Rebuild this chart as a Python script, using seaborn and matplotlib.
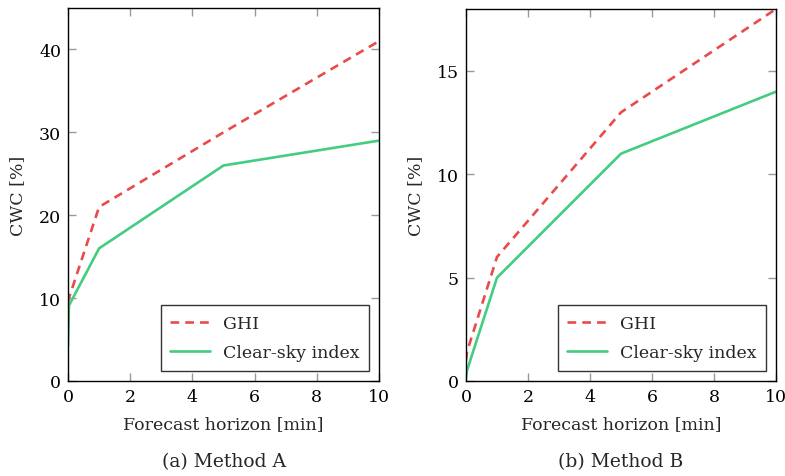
import numpy as np
import pandas as pd
import matplotlib
matplotlib.use("Agg")
import matplotlib.pyplot as plt
import seaborn as sns

horizon = [0.0, 0.03, 1, 5, 10]
ghi_a = [9.5, 10.0, 21, 30, 41]
csi_a = [4.2, 9.1, 16, 26, 29]
ghi_b = [1.0, 1.4, 6, 13, 18]
csi_b = [0.2, 0.5, 5, 11, 14]
series_names = ["GHI", "Clear-sky index"]
captions = ["(a) Method A", "(b) Method B"]
xticks = [0, 2, 4, 6, 8, 10]
yticks_a = [0, 10, 20, 30, 40]
yticks_b = [0, 5, 10, 15]

sns.set_style("ticks")
plt.rcParams["font.family"] = ["DejaVu Serif"]
plt.rcParams["mathtext.fontset"] = "dejavuserif"

def make_df(ghi, csi):
    return pd.DataFrame({
        "x": horizon * 2,
        "y": list(ghi) + list(csi),
        "series": [series_names[0]] * len(horizon) + [series_names[1]] * len(horizon),
    })

fig = plt.figure(figsize=(7.85, 4.77), dpi=100)
W, H = 785, 477
ax1 = fig.add_axes([68 / W, 1 - 382 / H, (379 - 68) / W, (382 - 9) / H])
ax2 = fig.add_axes([466 / W, 1 - 382 / H, (776 - 466) / W, (382 - 10) / H])

palette = {"GHI": "#E84B4B", "Clear-sky index": "#43CD80"}
dashes = {"GHI": (3.3, 2.3), "Clear-sky index": ""}

for ax, ghi, csi, yt, ytop, cap in [
    (ax1, ghi_a, csi_a, yticks_a, 45, captions[0]),
    (ax2, ghi_b, csi_b, yticks_b, 18, captions[1]),
]:
    df = make_df(ghi, csi)
    sns.lineplot(data=df, x="x", y="y", hue="series", style="series",
                 palette=palette, dashes=dashes, linewidth=1.9, ax=ax,
                 estimator=None, sort=False)
    ax.set_xlim(0, 10)
    ax.set_ylim(0, ytop)
    ax.set_xticks(xticks)
    ax.set_yticks(yt)
    ax.tick_params(direction="in", length=6, width=1, color="#999999",
                   top=True, right=True, labelsize=12.5, pad=5,
                   labelcolor="black")
    for s in ax.spines.values():
        s.set_visible(True)
        s.set_linewidth(1.0)
        s.set_color("black")
    ax.set_xlabel("Forecast horizon [min]", fontsize=12.5, labelpad=7)
    ax.set_ylabel("CWC [%]", fontsize=12.5, labelpad=9)
    leg = ax.legend(loc="lower right", fontsize=12.5, frameon=True, fancybox=False,
                    edgecolor="#333333", framealpha=1, handlelength=2.3,
                    handletextpad=0.7, borderaxespad=0.6, borderpad=0.55,
                    labelspacing=0.7)
    leg.get_frame().set_linewidth(1.0)
    leg.set_title(None)
    ax.text(0.5, -0.19, cap, transform=ax.transAxes, ha="center", va="top",
            fontsize=13.5)

fig.savefig("out.png", dpi=100)
